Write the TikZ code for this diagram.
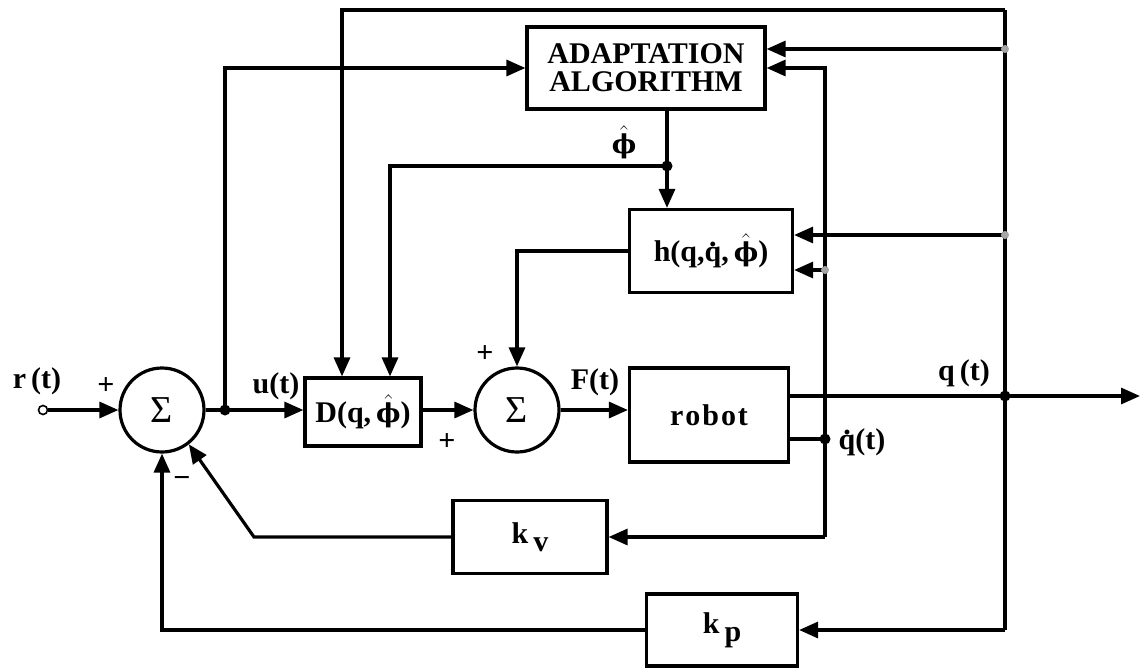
\RequirePackage{fix-cm}
\documentclass[tikz,border=0pt]{standalone}
\usepackage{amsmath}
\usepackage{fontspec}
\setmainfont{Liberation Serif}
\newfontfamily\grk{DejaVu Serif}
\usetikzlibrary{arrows.meta}

\newcommand{\qd}{\ooalign{q\cr\hidewidth\raisebox{0.5em}{.}\hidewidth\cr}}
\newcommand{\phat}{$\hat{\text{\grk\bfseries\fontsize{26}{26}\selectfont ϕ}}$}

\tikzset{
  blk/.style={draw, line width=3.2pt},
  sumc/.style={draw, circle, line width=3.2pt, minimum size=84pt, inner sep=0pt,
    font=\fontsize{38}{38}\selectfont},
  arr/.style={-{Triangle[length=19pt,width=16pt]}},
  jdot/.style={fill=black},
  gdot/.style={fill=gray!70}
}

\begin{document}
\begin{tikzpicture}[x=1pt, y=-1pt, line width=3.2pt,
    every node/.append style={font=\fontsize{30}{28}\selectfont\bfseries}]
        \useasboundingbox (0,0) rectangle (1142,669);
        \node[sumc] (s1) at (162,410) {Σ};
        \node[sumc] (s2) at (517,410) {Σ};
        \node[blk, minimum width=116pt, minimum height=68pt] (dbox) at (363,412) {D(q,\,\phat)};
        \node[blk, minimum width=238pt, minimum height=82pt, align=center] (adapt) at (646,68) {ADAPTATION\\ALGORITHM};
        \node[blk, minimum width=163pt, minimum height=83pt] (hbox) at (711,251) {h(q,\qd,\,\phat)};
        \node[blk, minimum width=159pt, minimum height=94pt] (robot) at (709,415) {r\kern2pt o\kern2pt b\kern2pt o\kern2pt t};
        \node[blk, minimum width=154pt, minimum height=73pt] (kv) at (530,537) {k\,\raisebox{-8pt}{v}};
        \node[blk, minimum width=151pt, minimum height=72pt] (kp) at (722,630) {k\,\raisebox{-8pt}{p}};
        \node[draw, circle, line width=1.6pt, inner sep=0pt, minimum size=9pt, fill=white] (rin) at (43,410) {};
        \coordinate (uj) at (225,410);
        \coordinate (qtop) at (1005,10);
        \coordinate (qa) at (1005,49);
        \coordinate (qh) at (1005,235);
        \coordinate (qj) at (1005,396);
        \coordinate (qk) at (1005,630);
        \coordinate (qout) at (1140,396);
        \coordinate (dqh) at (825,270);
        \coordinate (dqj) at (825,439);
        \coordinate (dqk) at (825,537);
        \coordinate (pj) at (667,166);
        \coordinate (kvc) at (254,537);
        \draw[arr] (rin) -- (s1);
        \draw[arr] (s1) -- (dbox.west |- s1);
        \draw[arr] (uj) |- (adapt.west);
        \draw[arr] (qtop) -| ([xshift=-21pt]dbox.north);
        \draw (pj |- adapt.south) -- (pj);
        \draw[arr] (pj) -- (pj |- hbox.north);
        \draw[arr] (pj) -| ([xshift=27pt]dbox.north);
        \draw[arr] (hbox.west) -| (s2);
        \draw[arr] (dbox.east |- s2) -- (s2);
        \draw[arr] (s2) -- (s2 -| robot.west);
        \draw (qj -| robot.east) -- (qj);
        \draw[arr] (qj) -- (qout);
        \draw (dqj -| robot.east) -- (dqj);
        \draw[arr] (dqk) |- (adapt.east);
        \draw[arr] (dqk) -- (kv);
        \draw[arr] (dqh) -- (dqh -| hbox.east);
        \draw (qtop) -- (qk);
        \draw[arr] (qa) -- (qa -| adapt.east);
        \draw[arr] (qh) -- (qh -| hbox.east);
        \draw[arr] (qk) -- (kp);
        \draw[arr] (kv) -- (kvc) -- (s1.-52);
        \draw[arr] (kp) -| (s1);
        \fill[jdot] (uj) circle (5.5pt) (pj) circle (5.5pt) (qj) circle (5.5pt) (dqj) circle (5.5pt);
        \fill[gdot] (qa) circle (4pt) (qh) circle (4pt) (dqh) circle (4pt);
        \node (lr) at (37,381) {r\,(t)};
        \node (lp1) at (106,386) {+};
        \node (lm1) at (182,482) {−};
        \node (lu) at (276,386) {u(t)};
        \node (lp2) at (485,354) {+};
        \node (lp3) at (447,442) {+};
        \node (lf) at (595,382) {F(t)};
        \node (lphi) at (624,142) {\phat};
        \node (lq) at (964,373) {q\,(t)};
        \node (ldq) at (862,442) {\qd(t)};
    \end{tikzpicture}
\end{document}
